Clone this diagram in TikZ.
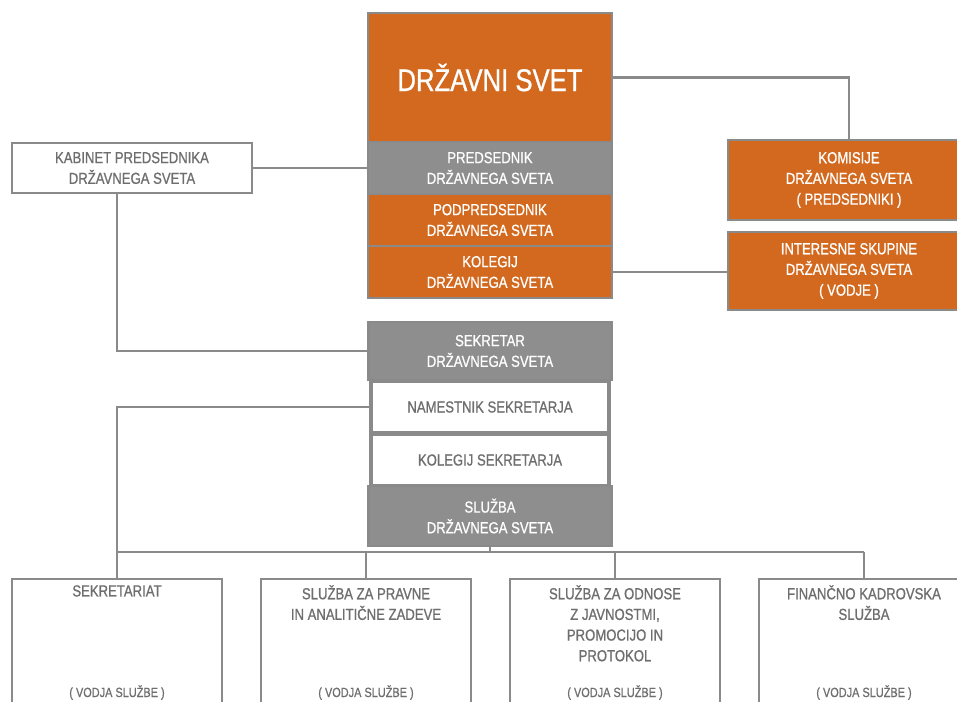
\documentclass[tikz,border=0pt]{standalone}
\usepackage{fontspec}
\setmainfont{Liberation Sans}[FakeStretch=0.82,FakeBold=0.8]
\usepackage{tikz}
\definecolor{SVOrange}{HTML}{D2691E}
\definecolor{SVGray}{HTML}{8E8E8E}
\definecolor{SVLine}{HTML}{8A8A8A}
\definecolor{SVText}{HTML}{6E6E6E}
\begin{document}
\begin{tikzpicture}[x=0.75pt,y=-0.75pt,
  box/.style={draw=SVLine,line width=1.9pt,inner sep=0pt,align=center,font=\fontsize{12}{15.5}\selectfont},
  orangebox/.style={box,fill=SVOrange,text=white},
  graybox/.style={box,fill=SVGray,text=white},
  whitebox/.style={box,fill=white,text=SVText},
  unitbox/.style={whitebox,minimum width=157.5pt,minimum height=105.75pt},
  unittitle/.style={anchor=north,align=center,text=SVText,inner sep=0pt,font=\fontsize{12}{15.5}\selectfont},
  unithead/.style={anchor=base,text=SVText,inner sep=0pt,font=\fontsize{10}{12}\selectfont},
  conn/.style={SVLine,line width=2.2pt}]
\path[use as bounding box] (0,0) rectangle (957,702);
\fill[white] (0,0) rectangle (957,702);
\clip (0,0) rectangle (957,702);
% council stack
\node[orangebox,minimum width=183pt,minimum height=96.75pt,font=\fontsize{23.5}{28}\selectfont] (drzavni) at (490,77.5) {DRŽAVNI SVET};
\node[graybox,minimum width=183pt,minimum height=39pt] (predsednik) at (490,168) {PREDSEDNIK\\DRŽAVNEGA SVETA};
\node[orangebox,minimum width=183pt,minimum height=39pt] (podpredsednik) at (490,220) {PODPREDSEDNIK\\DRŽAVNEGA SVETA};
\node[orangebox,minimum width=183pt,minimum height=39pt] (kolegij) at (490,272) {KOLEGIJ\\DRŽAVNEGA SVETA};
\node[whitebox,minimum width=180pt,minimum height=37.5pt] (kabinet) at (132,168) {KABINET PREDSEDNIKA\\DRŽAVNEGA SVETA};
\node[orangebox,minimum width=181.5pt,minimum height=60pt] (komisije) at (849,180) {KOMISIJE\\DRŽAVNEGA SVETA\\( PREDSEDNIKI )};
\node[orangebox,minimum width=181.5pt,minimum height=58.5pt] (interesne) at (849,271) {INTERESNE SKUPINE\\DRŽAVNEGA SVETA\\( VODJE )};
% secretary stack
\node[graybox,minimum width=182.25pt,minimum height=43.5pt] (sekretar) at (490,351) {SEKRETAR\\DRŽAVNEGA SVETA};
\node[whitebox,line width=3.5pt,minimum width=178.5pt,minimum height=39pt] (namestnik) at (490,407) {NAMESTNIK SEKRETARJA};
\node[whitebox,line width=3.5pt,minimum width=178.5pt,minimum height=39pt] (kolsek) at (490,460) {KOLEGIJ SEKRETARJA};
\node[graybox,minimum width=182.25pt,minimum height=45pt] (sluzba) at (490,516) {SLUŽBA\\DRŽAVNEGA SVETA};
% units
\node[unitbox] (sekretariat) at (117,649.5) {};
\node[unitbox] (pravne) at (366,649.5) {};
\node[unitbox] (odnosi) at (615,649.5) {};
\node[unitbox] (finance) at (864,649.5) {};
\node[unittitle] (sekretariatt) at (117,585) {SEKRETARIAT};
\node[unittitle] (pravnet) at (366,585) {SLUŽBA ZA PRAVNE\\IN ANALITIČNE ZADEVE};
\node[unittitle] (odnosit) at (615,585) {SLUŽBA ZA ODNOSE\\Z JAVNOSTMI,\\PROMOCIJO IN\\PROTOKOL};
\node[unittitle] (financet) at (864,585) {FINANČNO KADROVSKA\\SLUŽBA};
\node[unithead] (sekretariatv) at (117,697) {( VODJA SLUŽBE )};
\node[unithead] (pravnev) at (366,697) {( VODJA SLUŽBE )};
\node[unithead] (odnosiv) at (615,697) {( VODJA SLUŽBE )};
\node[unithead] (financev) at (864,697) {( VODJA SLUŽBE )};
% connectors
\coordinate (bus) at (490,552);
\draw[conn] (drzavni.east) -| (komisije.north);
\draw[conn] (kabinet.east) -- (predsednik.west);
\draw[conn] (kolegij.east) -- (kolegij.east -| interesne.west);
\draw[conn] (kabinet.south -| sekretariat.north) |- (sekretar.west);
\draw[conn] (namestnik.west) -| (sekretariat.north);
\draw[conn] (sluzba.south) -- (bus);
\draw[conn] (bus -| sekretariat.north) -- (bus -| finance.north);
\draw[conn] (pravne.north) -- (bus -| pravne.north);
\draw[conn] (odnosi.north) -- (bus -| odnosi.north);
\draw[conn] (finance.north) -- (bus -| finance.north);
\end{tikzpicture}
\end{document}
